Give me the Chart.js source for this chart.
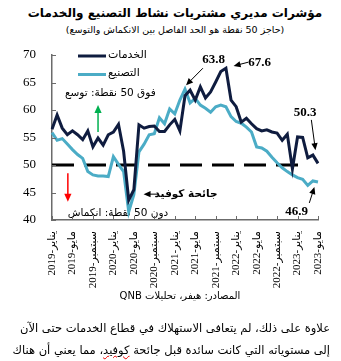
<!DOCTYPE html>
<html lang="ar">
<head>
<meta charset="utf-8">
<script src="https://cdn.jsdelivr.net/npm/chart.js@4.4.1/dist/chart.umd.min.js"></script>
<style>
    html, body { margin: 0; padding: 0; background: #fff; }
    body { width: 341px; height: 361px; position: relative; overflow: hidden; font-family: 'DejaVu Sans', sans-serif; color: #000; }
    #chart { position: absolute; left: 0; top: 0; }
    .title { position: absolute; left: 0; width: 350px; text-align: center; white-space: nowrap; }
    #t1 { top: 6px; font-size: 12px; font-weight: bold; }
    #t2 { top: 24px; font-size: 9.5px; }
    #src { position: absolute; top: 290px; left: 100px; width: 160px; text-align: center; font-size: 10px; white-space: nowrap; }
    .body { position: absolute; right: 11px; font-size: 11.5px; white-space: nowrap; text-align: right; }
    #b1 { top: 321px; }
    #b2 { top: 343px; }
    .typo { text-decoration: underline wavy #e00; text-decoration-thickness: 1px; }
</style>
</head>
<body>
<div class="title" id="t1" dir="rtl">مؤشرات مديري مشتريات نشاط التصنيع والخدمات</div>
<div class="title" id="t2" dir="rtl">(حاجز 50 نقطة هو الحد الفاصل بين الانكماش والتوسع)</div>
<canvas id="chart" width="341" height="300" dir="rtl"></canvas>
<div id="src" dir="rtl">المصادر: هيفر، تحليلات QNB</div>
<div class="body" id="b1" dir="rtl">علاوة على ذلك، لم يتعافى الاستهلاك في قطاع الخدمات حتى الآن</div>
<div class="body" id="b2" dir="rtl">إلى مستوياته التي كانت سائدة قبل جائحة <span class="typo">كوفيد</span>، مما يعني أن هناك</div>
<script>
// الأشهر من يناير 2019 إلى مايو 2023
const monthNames = ['يناير', 'فبراير', 'مارس', 'أبريل', 'مايو', 'يونيو', 'يوليو', 'أغسطس', 'سبتمبر', 'أكتوبر', 'نوفمبر', 'ديسمبر'];
const months = [];
for (let y = 2019; y <= 2023; y++) {
    for (let m = 0; m < 12; m++) {
        if (y === 2023 && m > 4) break;
        months.push(monthNames[m] + '-' + y);
    }
}
const tickEvery = 4;

// مؤشر مديري المشتريات - الخدمات
const services = [
    56.5, 59.1, 56.7, 55.5, 56.2, 55.5, 54.6, 56.2, 53.3, 54.9, 53.6, 55.5,
    56.0, 57.4, 52.5, 43.6, 45.5, 57.3, 56.7, 57.0, 57.1, 56.1, 56.1, 57.3,
    58.3, 56.2, 62.6, 63.6, 61.8, 64.2, 62.2, 63.3, 65.1, 67.0, 67.6, 61.8,
    60.6, 57.8, 58.5, 57.5, 56.6, 56.2, 56.4, 56.0, 55.8, 54.5, 55.6, 49.3,
    55.1, 55.0, 51.3, 51.8, 50.3
];

// مؤشر مديري المشتريات - التصنيع
const manufacturing = [
    55.9, 54.5, 54.8, 53.8, 52.8, 51.9, 51.2, 48.8, 48.2, 48.0, 48.0, 47.9,
    51.5, 50.1, 48.8, 41.5, 44.6, 52.4, 53.8, 55.5, 55.7, 58.6, 57.5, 60.2,
    59.3, 61.8, 63.8, 61.3, 62.1, 60.9, 60.3, 59.6, 60.6, 60.9, 60.6, 58.8,
    57.9, 57.6, 56.9, 56.0, 53.3, 53.1, 52.5, 51.4, 50.4, 49.5, 48.8, 48.2,
    47.7, 47.4, 46.3, 47.1, 46.9
];

const yTicks = [40, 45, 50, 55, 60, 65, 70];
const threshold = 50;

const COLORS = {
    services: '#0f1c3f',
    manufacturing: '#4bacc6',
    axis: '#6b6b6b'
};
const SERIF = "'Liberation Serif', 'DejaVu Sans'";
const ARABIC = "'DejaVu Sans'";

// سهم بسيط
function drawArrow(ctx, x1, y1, x2, y2, color, width, head) {
    const ang = Math.atan2(y2 - y1, x2 - x1);
    ctx.save();
    ctx.strokeStyle = color;
    ctx.fillStyle = color;
    ctx.lineWidth = width;
    ctx.beginPath();
    ctx.moveTo(x1, y1);
    ctx.lineTo(x2 - Math.cos(ang) * head * 0.8, y2 - Math.sin(ang) * head * 0.8);
    ctx.stroke();
    ctx.beginPath();
    ctx.moveTo(x2, y2);
    ctx.lineTo(x2 - head * Math.cos(ang) + head * 0.45 * Math.sin(ang), y2 - head * Math.sin(ang) - head * 0.45 * Math.cos(ang));
    ctx.lineTo(x2 - head * Math.cos(ang) - head * 0.45 * Math.sin(ang), y2 - head * Math.sin(ang) + head * 0.45 * Math.cos(ang));
    ctx.closePath();
    ctx.fill();
    ctx.restore();
}

// النصوص والأسهم بإحداثيات البيانات (رقم الشهر، القيمة)
const notes = [
    { text: 'فوق 50 نقطة: توسع', x: 11.4, y: 63.1, font: '10.5px ' + ARABIC },
    { text: 'دون 50 نقطة: انكماش', x: 12.9, y: 41.3, font: '10.5px ' + ARABIC },
    { text: 'جائحة كوفيد', x: 26.2, y: 44.7, font: 'bold 10.5px ' + ARABIC },
    { text: '63.8', x: 31.6, y: 69.1, font: 'bold 13px ' + SERIF },
    { text: '67.6', x: 40.6, y: 68.6, font: 'bold 13px ' + SERIF },
    { text: '50.3', x: 49.5, y: 59.5, font: 'bold 13px ' + SERIF },
    { text: '46.9', x: 47.8, y: 41.5, font: 'bold 13px ' + SERIF }
];
const arrows = [
    { from: [9.0, 56.0], to: [9.0, 60.9], color: '#00b050', width: 1.5, head: 8 },
    { from: [3.1, 48.5], to: [3.1, 43.3], color: '#ff0000', width: 1.5, head: 8 },
    { from: [20.8, 44.7], to: [17.9, 44.7], color: '#000', width: 1, head: 7 },
    { from: [29.5, 67.6], to: [26.2, 64.5], color: '#000', width: 1, head: 7 },
    { from: [38.4, 68.7], to: [35.5, 68.0], color: '#000', width: 1, head: 7 },
    { from: [50.7, 58.2], to: [51.5, 52.7], color: '#000', width: 1, head: 7 },
    { from: [50.3, 43.1], to: [51.3, 46.0], color: '#000', width: 1, head: 7 }
];

const decorPlugin = {
    id: 'decor',
    beforeDatasetsDraw(chart) {
        const { ctx, scales: { x, y } } = chart;
        // خط 50 المتقطع
        ctx.save();
        ctx.strokeStyle = '#000';
        ctx.lineWidth = 3;
        ctx.setLineDash([22, 10]);
        ctx.beginPath();
        ctx.moveTo(x.getPixelForValue(0), y.getPixelForValue(threshold));
        ctx.lineTo(x.getPixelForValue(50), y.getPixelForValue(threshold));
        ctx.stroke();
        ctx.restore();

        ctx.save();
        ctx.fillStyle = '#000';
        ctx.textAlign = 'center';
        ctx.textBaseline = 'middle';
        notes.forEach(n => {
            ctx.font = n.font;
            ctx.fillText(n.text, x.getPixelForValue(n.x), y.getPixelForValue(n.y));
        });
        ctx.restore();

        arrows.forEach(a => {
            drawArrow(ctx,
                x.getPixelForValue(a.from[0]), y.getPixelForValue(a.from[1]),
                x.getPixelForValue(a.to[0]), y.getPixelForValue(a.to[1]),
                a.color, a.width, a.head);
        });
    },
    afterDatasetsDraw(chart) {
        const { ctx, chartArea, scales: { x, y } } = chart;
        // علامات المحاور للداخل
        ctx.save();
        ctx.strokeStyle = COLORS.axis;
        ctx.lineWidth = 1;
        ctx.beginPath();
        for (let i = 0; i < months.length; i += tickEvery) {
            const px = Math.round(x.getPixelForValue(i)) + 0.5;
            ctx.moveTo(px, chartArea.bottom);
            ctx.lineTo(px, chartArea.bottom - 4);
        }
        yTicks.forEach(v => {
            const py = Math.round(y.getPixelForValue(v)) + 0.5;
            ctx.moveTo(chartArea.left, py);
            ctx.lineTo(chartArea.left + 4, py);
        });
        ctx.stroke();
        ctx.restore();

        // وسيلة الإيضاح داخل منطقة الرسم
        ctx.save();
        ctx.font = '11px ' + ARABIC;
        ctx.textBaseline = 'middle';
        ctx.textAlign = 'left';
        chart.data.datasets.forEach((ds, k) => {
            const ly = chartArea.top + 1 + k * 18.5;
            ctx.strokeStyle = ds.borderColor;
            ctx.lineWidth = 3;
            ctx.beginPath();
            ctx.moveTo(chartArea.left + 26, ly);
            ctx.lineTo(chartArea.left + 54, ly);
            ctx.stroke();
            ctx.fillStyle = '#000';
            ctx.fillText(ds.label, chartArea.left + 56, ly - 1);
        });
        ctx.restore();
    }
};

new Chart(document.getElementById('chart'), {
    type: 'line',
    data: {
        labels: months,
        datasets: [
            {
                label: 'الخدمات',
                data: services,
                borderColor: COLORS.services,
                borderWidth: 3,
                pointRadius: 0,
                tension: 0
            },
            {
                label: 'التصنيع',
                data: manufacturing,
                borderColor: COLORS.manufacturing,
                borderWidth: 3,
                pointRadius: 0,
                tension: 0
            }
        ]
    },
    options: {
        responsive: false,
        animation: false,
        layout: { padding: { top: 55, right: 23, left: 0, bottom: 0 } },
        plugins: {
            legend: { display: false },
            tooltip: { enabled: false }
        },
        scales: {
            x: {
                offset: false,
                grid: { display: false },
                border: { color: COLORS.axis, width: 1.5 },
                ticks: {
                    autoSkip: false,
                    maxRotation: 90,
                    minRotation: 90,
                    padding: 3,
                    color: '#000',
                    font: { family: SERIF, size: 11 },
                    callback: (v, i) => (i % tickEvery === 0 ? months[i] : '')
                },
                afterFit: scale => { scale.height = 80; }
            },
            y: {
                min: 40,
                max: 70,
                grid: { display: false },
                border: { color: COLORS.axis, width: 1.5 },
                ticks: {
                    stepSize: 5,
                    padding: 8,
                    color: '#000',
                    font: { family: SERIF, size: 13 }
                },
                afterFit: scale => { scale.width = 52; }
            }
        }
    },
    plugins: [decorPlugin]
});
</script>
</body>
</html>
